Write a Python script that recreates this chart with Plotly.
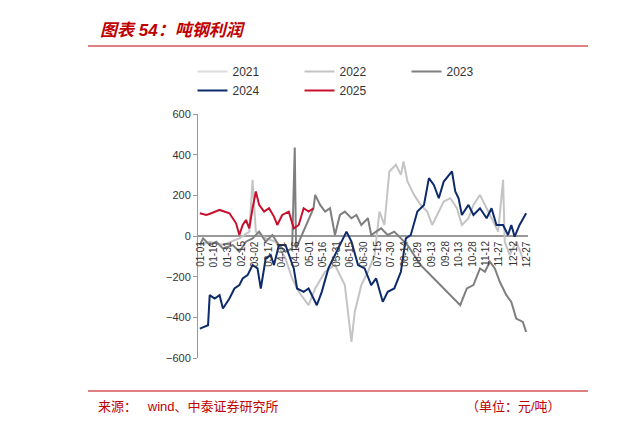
import plotly.graph_objects as go

def conv(pts):
    return [(x - 30) * 0.3636 for x, _ in pts], [(413 - y) * 1.644 for _, y in pts]

p2024 = [(30,690),(55,680),(60,590),(75,600),(90,590),(100,630),(120,600),(135,570),(150,560),(160,540),
         (175,530),(190,500),(205,510),(215,570),(230,480),(245,470),(255,500),(270,440),(290,440),(300,470),
         (315,510),(325,570),(345,580),(360,570),(385,620),(400,580),(420,510),(440,470),(460,430),(475,400),
         (490,430),(510,500),(530,510),(550,560),(565,540),(585,610),(600,580),(620,570),(640,520),(655,420),
         (670,410),(690,340),(710,320),(725,240),(740,260),(755,300),(770,250),(785,230),(795,220),(805,280),
         (815,300),(825,350),(845,320),(860,350),(880,330),(900,360),(915,330),(930,380),(950,380),(965,410),
         (975,380),(985,415),(1000,380),(1020,345)]
p2025 = [(30,345),(50,350),(65,345),(90,335),(120,345),(140,375),(150,410),(160,380),(170,365),(180,390),
         (190,330),(200,280),(210,320),(225,340),(240,330),(255,355),(265,380),(280,350),(300,340),(315,390),
         (330,380),(345,330),(360,340),(375,330)]
p2023 = [(30,440),(40,420),(60,440),(80,430),(100,450),(130,440),(150,460),(170,430),(190,420),(210,400),
         (230,430),(250,410),(270,440),(290,460),(310,450),(318,148),(322,450),(345,400),(375,330),(380,290),
         (395,320),(410,340),(425,330),(440,410),(455,350),(470,340),(490,360),(505,350),(520,380),(540,360),
         (550,410),(565,400),(580,390),(600,410),(620,400),(640,420),(660,440),(680,470),(700,500),(720,520),
         (740,540),(760,560),(780,580),(800,600),(820,620),(840,570),(860,560),(880,510),(895,520),(910,490),
         (925,510),(940,550),(960,590),(975,610),(990,660),(1010,670),(1020,700)]
p2022 = [(30,440),(60,430),(100,440),(150,420),(180,400),(190,245),(200,400),(230,420),(260,430),(290,480),
         (310,540),(330,580),(360,620),(380,570),(410,520),(440,500),(470,560),(490,730),(500,640),(520,560),
         (540,520),(560,470),(575,340),(590,380),(605,220),(625,200),(640,230),(648,190),(660,250),(680,290),
         (700,320),(720,340),(735,380),(750,350),(770,310),(790,300),(810,330),(825,380),(845,360),(860,320),
         (880,290),(900,330),(920,370),(935,400),(950,245),(955,430),(970,470),(990,430),(1010,480)]

tick_days = list(range(0, 361, 15))
tick_text = ["01-01","01-16","01-31","02-15","03-02","03-17","04-01","04-16","05-01","05-16","05-31",
             "06-15","06-30","07-15","07-30","08-14","08-29","09-13","09-28","10-13","10-28","11-12",
             "11-27","12-12","12-27"]

series = [("2021", [], "#dcdcdc"), ("2022", p2022, "#c4c4c4"), ("2023", p2023, "#7f7f7f"),
          ("2024", p2024, "#0d2b6b"), ("2025", p2025, "#c8102e")]

W, H, L, R, T, B = 640, 422, 190, 120, 106, 72
pw, ph = W - L - R, H - T - B
px = lambda x: (x - L) / pw
py = lambda y: (H - B - y) / ph

fig = go.Figure()
for name, pts, col in series:
    x, y = conv(pts) if pts else ([None], [None])
    fig.add_trace(go.Scatter(x=x, y=y, mode="lines", name=name, line=dict(color=col, width=2)))

for d, t in zip(tick_days, tick_text):
    fig.add_annotation(x=d, y=0, xref="x", yref="y", text=t, showarrow=False, textangle=-90,
                       yanchor="top", xanchor="center", yshift=-3, font=dict(size=10, color="#333"))

fig.add_annotation(x=px(90), y=py(22), xref="paper", yref="paper", text="<b><i>图表 54：吨钢利润</i></b>",
                   showarrow=False, xanchor="left", yanchor="middle", font=dict(size=17, color="#c00000"))
fig.add_annotation(x=px(88), y=py(398), xref="paper", yref="paper", text="来源：   wind、中泰证券研究所",
                   showarrow=False, xanchor="left", yanchor="middle", font=dict(size=13, color="#c00000"))
fig.add_annotation(x=px(555), y=py(398), xref="paper", yref="paper", text="（单位：元/吨）",
                   showarrow=False, xanchor="right", yanchor="middle", font=dict(size=13, color="#c00000"))

fig.update_layout(
    width=W, height=H, margin=dict(l=L, r=R, t=T, b=B),
    paper_bgcolor="white", plot_bgcolor="white",
    font=dict(family="Liberation Sans, Noto Sans CJK SC", size=11, color="#333"),
    showlegend=True,
    legend=dict(orientation="h", x=px(345), xanchor="center", y=py(73), yanchor="middle",
                font=dict(size=12), entrywidth=62, itemwidth=30, tracegroupgap=0),
    xaxis=dict(range=[-2, 362], showticklabels=False, showgrid=False, zeroline=False, showline=False),
    yaxis=dict(range=[-600, 600], dtick=200, showgrid=False, zeroline=True, zerolinecolor="#999",
               zerolinewidth=1.5, showline=True, linecolor="#999", ticks="outside", ticklen=4,
               tickcolor="#999"),
    shapes=[dict(type="line", xref="paper", yref="paper", x0=px(80), x1=px(580), y0=py(38), y1=py(38),
                 line=dict(color="#c00000", width=1)),
            dict(type="line", xref="paper", yref="paper", x0=px(80), x1=px(580), y0=py(383), y1=py(383),
                 line=dict(color="#c00000", width=1))],
)
fig.write_html("out.html")
